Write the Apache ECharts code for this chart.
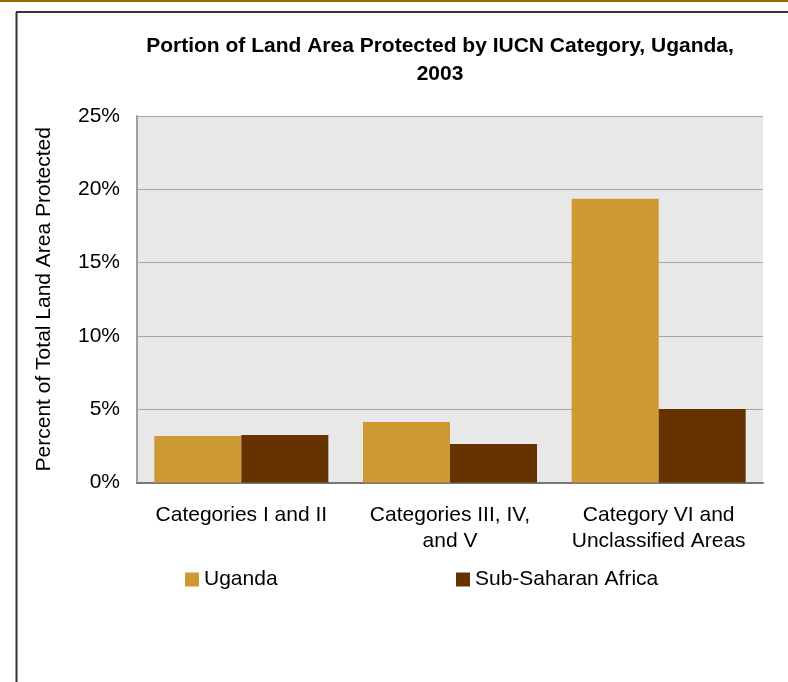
<!DOCTYPE html>
<html><head><meta charset="utf-8">
<script src="https://cdn.jsdelivr.net/npm/echarts@6/dist/echarts.min.js"></script>
<style>html,body{margin:0;padding:0;background:#fff}#c{width:788px;height:682px}</style>
</head><body><div id="c"></div>
<script>
const categories = ['Categories I and II', 'Categories III, IV,\nand V', 'Category VI and\nUnclassified Areas'];
const uganda = [3.17, 4.13, 19.35];
const subSaharan = [3.24, 2.63, 5.01];
const yTicks = [0, 5, 10, 15, 20, 25];

const FONT = 'Liberation Sans, Arial, sans-serif';
const chart = echarts.init(document.getElementById('c'));
chart.setOption({
  animation: false,
  textStyle: { fontFamily: FONT },
  title: {
    text: 'Portion of Land Area Protected by IUCN Category, Uganda,\n2003',
    left: 440, top: 32, textAlign: 'center', padding: 0,
    textStyle: { fontSize: 21, fontWeight: 'bold', color: '#000', lineHeight: 28, fontFamily: FONT }
  },
  graphic: [
    { type: 'rect', shape: { x: 0, y: 0, width: 788, height: 2 }, style: { fill: '#9a6a00' } },
    { type: 'line', shape: { x1: 16.5, y1: 12, x2: 16.5, y2: 682 }, style: { stroke: '#333', lineWidth: 2 } },
    { type: 'line', shape: { x1: 16, y1: 12, x2: 788, y2: 12 }, style: { stroke: '#333', lineWidth: 2 } }
  ],
  legend: [
    { data: ['Uganda'], left: 185, top: 569, itemWidth: 14, itemHeight: 14, itemGap: 5, icon: 'rect',
      textStyle: { fontSize: 21, color: '#000', fontFamily: FONT }, padding: 0 },
    { data: ['Sub-Saharan Africa'], left: 456, top: 569, itemWidth: 14, itemHeight: 14, itemGap: 5, icon: 'rect',
      textStyle: { fontSize: 21, color: '#000', fontFamily: FONT }, padding: 0 }
  ],
  grid: { left: 137, right: 25, top: 116, bottom: 199.5, show: true, backgroundColor: '#e8e8e8', borderWidth: 0 },
  xAxis: {
    type: 'category', data: categories,
    axisLine: { lineStyle: { color: '#777', width: 2 } },
    axisTick: { show: false },
    axisLabel: { interval: 0, fontSize: 21, color: '#000', lineHeight: 26, margin: 20, fontFamily: FONT }
  },
  yAxis: {
    type: 'value', min: yTicks[0], max: yTicks[yTicks.length - 1], interval: 5,
    name: 'Percent of Total Land Area Protected', nameLocation: 'middle', nameGap: 82,
    nameTextStyle: { fontSize: 21, color: '#000', fontFamily: FONT },
    axisLine: { show: true, lineStyle: { color: '#a0a0a0', width: 2 } },
    axisTick: { show: false },
    splitLine: { lineStyle: { color: '#a6a6a6', width: 1 } },
    axisLabel: { fontSize: 21, color: '#000', margin: 17, formatter: v => v + '%', fontFamily: FONT }
  },
  series: [
    { name: 'Uganda', type: 'bar', data: uganda, barGap: '0%', barCategoryGap: '16.6%', itemStyle: { color: '#cc9933' } },
    { name: 'Sub-Saharan Africa', type: 'bar', data: subSaharan, itemStyle: { color: '#663300' } }
  ]
});
</script></body></html>
